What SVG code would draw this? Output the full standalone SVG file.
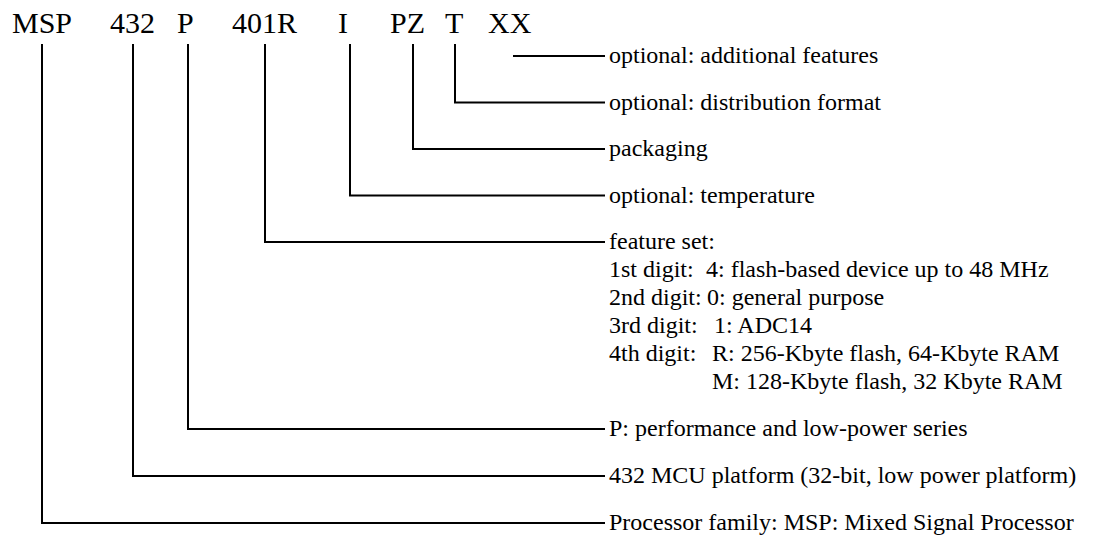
<svg xmlns="http://www.w3.org/2000/svg" width="1093" height="537" viewBox="0 0 1093 537">
<style>
.t{font-family:"Liberation Serif","Times New Roman",serif;font-size:30px;fill:#000}
.l{font-family:"Liberation Serif","Times New Roman",serif;font-size:24px;fill:#000}
.c{fill:none;stroke:#000;stroke-width:2}
</style>
<rect width="1093" height="537" fill="#fff"/>
<g id="part-number">
<text class="t" x="12" y="33">MSP</text>
<text class="t" x="110" y="33">432</text>
<text class="t" x="177" y="33">P</text>
<text class="t" x="232" y="33">401R</text>
<text class="t" x="338" y="33">I</text>
<text class="t" x="390" y="33">PZ</text>
<text class="t" x="445" y="33">T</text>
<text class="t" x="488" y="33">XX</text>
</g>
<g id="connectors">
<path class="c" d="M513 56H605"/>
<path class="c" d="M455 44V102.5H605"/>
<path class="c" d="M413 44V149H605"/>
<path class="c" d="M350 44V195.5H605"/>
<path class="c" d="M265 44V242H605"/>
<path class="c" d="M188 44V429H605"/>
<path class="c" d="M133 44V476H605"/>
<path class="c" d="M42 44V523H605"/>
</g>
<g id="label-xx"><text class="l" x="609" y="63">optional: additional features</text></g>
<g id="label-t"><text class="l" x="609" y="110">optional: distribution format</text></g>
<g id="label-pz"><text class="l" x="609" y="156">packaging</text></g>
<g id="label-i"><text class="l" x="609" y="203">optional: temperature</text></g>
<g id="label-401r">
<text class="l" x="609" y="249">feature set:</text>
<text class="l" y="277"><tspan x="609">1st digit:</tspan><tspan x="706">4: flash-based device up to 48 MHz</tspan></text>
<text class="l" y="305"><tspan x="609">2nd digit:</tspan><tspan x="707">0: general purpose</tspan></text>
<text class="l" y="333"><tspan x="609">3rd digit:</tspan><tspan x="714">1: ADC14</tspan></text>
<text class="l" y="361"><tspan x="609">4th digit:</tspan><tspan x="712">R: 256-Kbyte flash, 64-Kbyte RAM</tspan></text>
<text class="l" x="712" y="389">M: 128-Kbyte flash, 32 Kbyte RAM</text>
</g>
<g id="label-p"><text class="l" x="609" y="436">P: performance and low-power series</text></g>
<g id="label-432"><text class="l" x="609" y="483">432 MCU platform (32-bit, low power platform)</text></g>
<g id="label-msp"><text class="l" x="609" y="530">Processor family: MSP: Mixed Signal Processor</text></g>
</svg>
